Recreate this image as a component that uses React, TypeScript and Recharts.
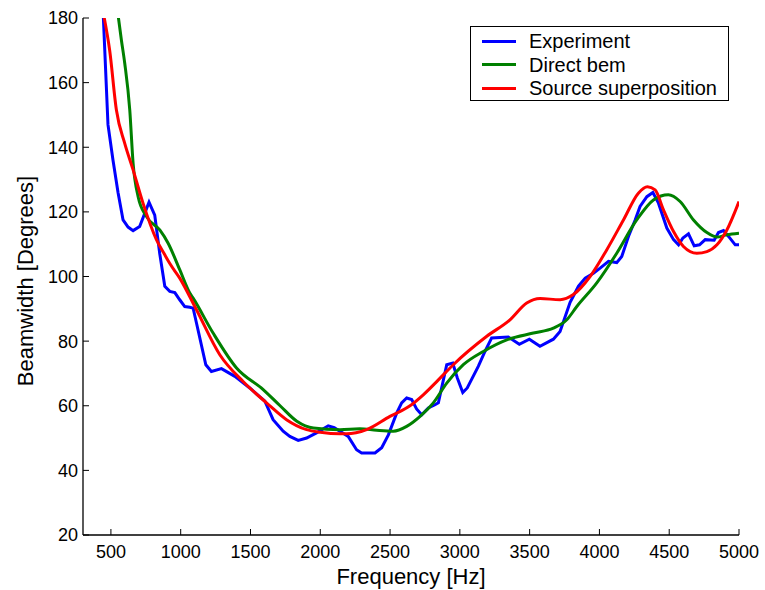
import { LineChart, Line, XAxis, YAxis, Legend } from 'recharts';

const xTicks = [500, 1000, 1500, 2000, 2500, 3000, 3500, 4000, 4500, 5000];
const yTicks = [20, 40, 60, 80, 100, 120, 140, 160, 180];
const seriesNames = ['Experiment', 'Direct bem', 'Source superposition'];

// measured beamwidth
const expFreq = [
  445, 479, 515, 551, 587, 623, 659, 706, 773, 814, 850, 886, 922, 958, 993, 1029, 1065, 1089, 1113,
  1180, 1220, 1292, 1388, 1495, 1603, 1662, 1734, 1782, 1842, 1902, 1973, 2057, 2100, 2141, 2200,
  2260, 2296, 2392, 2440, 2488, 2548, 2583, 2619, 2655, 2690, 2727, 2774, 2822, 2846, 2906, 2949,
  2982, 3021, 3053, 3132, 3180, 3228, 3347, 3426, 3498, 3574, 3670, 3718, 3790, 3850, 3898, 3957,
  4005, 4065, 4124, 4160, 4208, 4256, 4291, 4340, 4383, 4423, 4483, 4531, 4567, 4598, 4638, 4679,
  4717, 4758, 4822, 4853, 4889, 4925, 4973, 5000,
];
const expBeam = [
  181, 147, 136, 126, 117.5, 115.3, 114.2, 115.5, 123, 119, 107, 97, 95.4, 95, 92.8, 90.7, 90.5, 90.2, 85.6,
  72.7, 70.6, 71.5, 69.1, 65.5, 61.4, 55.7, 52.1, 50.5, 49.3, 50, 51.6, 53.8, 53.2, 52.1, 50.5,
  46.4, 45.4, 45.4, 47, 51, 57.8, 60.9, 62.4, 61.9, 59, 57.2, 59.3, 60.3, 60.9, 72.7, 73.2,
  68.6, 64.1, 65.5, 72.2, 76.8, 81, 81.3, 79, 80.6, 78.4, 80.6, 83, 92, 97, 99.5, 101,
  102.6, 104.7, 104.3, 106.2, 112.4, 117.5, 121.7, 124.7, 126, 122.7, 115, 111.4, 109.8, 111.9, 113.2, 109.5,
  109.8, 111.4, 111.2, 113.6, 114.2, 112.4, 109.8, 109.8,
];

// direct BEM model
const bemFreq = [
  551, 575, 599, 635, 659, 695, 754, 850, 910, 993, 1065, 1089, 1232, 1400, 1591, 1712, 1832, 1951,
  2141, 2284, 2404, 2523, 2619, 2715, 2810, 2906, 3025, 3168, 3336, 3527, 3670, 3766, 3838, 3981,
  4124, 4267, 4387, 4494, 4578, 4674, 4770, 4842, 4913, 5000,
];
const bemBeam = [
  181, 173.2, 166, 151.6, 135, 124.7, 118.6, 114.4, 110.3, 102.1, 94.9, 93.3, 82.5, 71.7, 65, 60, 55.2, 53.1,
  52.6, 52.9, 52.4, 52.1, 53.6, 56.7, 60.9, 67, 72.7, 76.8, 80.4, 82.5, 84, 86.6, 90.7, 98,
  107.2, 117.5, 123.7, 125.3, 123.2, 117.5, 113.6, 112.2, 112.9, 113.4,
];

// source superposition model
const supFreq = [
  448, 491, 539, 599, 659, 730, 826, 886, 922, 993, 1113, 1280, 1447, 1615, 1758, 1902, 2000, 2141,
  2188, 2332, 2499, 2643, 2738, 2846, 2953, 3193, 3359, 3479, 3575, 3718, 3813, 3933, 4053, 4172,
  4279, 4344, 4399, 4459, 4531, 4602, 4698, 4770, 4842, 4913, 5000,
];
const supBeam = [
  181, 170, 151.6, 141.2, 133, 122.7, 111.4, 106.7, 104, 99.5, 89.7, 75.8, 67.5, 60.9, 55.7, 52.6, 51.8, 51.3,
  51.3, 52.6, 56.7, 60, 63.4, 68, 72.7, 81.5, 86.6, 91.8, 93.2, 92.8, 94.4, 100, 108.3, 117.5,
  125.8, 127.8, 126.8, 120.6, 113.9, 109.3, 107.2, 107.7, 109.8, 114.4, 123.2,
];

const toPoints = (freq: number[], beam: number[]) => freq.map((f, i) => ({ f, v: beam[i] }));

const experiment = toPoints(expFreq, expBeam);
const directBem = toPoints(bemFreq, bemBeam);
const superposition = toPoints(supFreq, supBeam);

const FONT = '"Liberation Sans", Arial, Helvetica, sans-serif';

function LegendBox({ payload }: any) {
  // keep the series in plotting order, not the legend's default sort
  const items = seriesNames
    .map((name) => (payload || []).find((p: any) => p.value === name))
    .filter(Boolean);
  return (
    <div style={{
      position: 'relative',
      width: 259,
      height: 75,
      boxSizing: 'border-box',
      border: '1px solid #000',
      background: '#fff',
      fontFamily: FONT,
    }}>
      {items.map((item: any, i: number) => (
        <div key={item.value} style={{ position: 'absolute', left: 0, top: 2 + i * 23.5, height: 24, display: 'flex', alignItems: 'center' }}>
          <div style={{ marginLeft: 11, width: 34, height: 3, background: item.color }} />
          <span style={{ marginLeft: 13, fontSize: 20, color: '#000', lineHeight: '24px' }}>{item.value}</span>
        </div>
      ))}
    </div>
  );
}

const axisStroke = { stroke: '#000', strokeWidth: 1.3 };
const tickStroke = { stroke: '#000', strokeWidth: 1 };
const tickFont = { fill: '#000', fontSize: 18, fontFamily: FONT };

export default function App() {
  return (
    <div style={{ width: 765, height: 590, fontFamily: FONT, background: '#fff' }}>
      <style>{'body { margin: 0; }'}</style>
      <LineChart width={765} height={590} margin={{ top: 18, right: 26, bottom: 0, left: 0 }}>
        <XAxis
          dataKey="f"
          type="number"
          domain={[300, 5000]}
          ticks={xTicks}
          allowDataOverflow
          height={55}
          tickSize={-6}
          tickMargin={16}
          tick={tickFont}
          axisLine={axisStroke}
          tickLine={tickStroke}
          label={() => (
            <text x={411} y={584} textAnchor="middle" fontSize={22} fontFamily={FONT} fill="#000">
              Frequency [Hz]
            </text>
          )}
        />
        <XAxis
          xAxisId="top"
          orientation="top"
          type="number"
          domain={[300, 5000]}
          ticks={xTicks}
          allowDataOverflow
          height={0}
          tickSize={-6}
          tick={() => <g />}
          axisLine={axisStroke}
          tickLine={tickStroke}
        />
        <YAxis
          type="number"
          domain={[20, 180]}
          ticks={yTicks}
          allowDataOverflow
          width={83}
          tickSize={-6}
          tickMargin={11}
          tick={tickFont}
          axisLine={axisStroke}
          tickLine={tickStroke}
          label={() => (
            <text x={33} y={281} transform="rotate(-90, 33, 281)" textAnchor="middle" fontSize={22} fontFamily={FONT} fill="#000">
              Beamwidth [Degrees]
            </text>
          )}
        />
        <YAxis
          yAxisId="right"
          orientation="right"
          type="number"
          domain={[20, 180]}
          ticks={yTicks}
          allowDataOverflow
          width={0}
          tickSize={-6}
          tick={() => <g />}
          axisLine={axisStroke}
          tickLine={tickStroke}
        />
        <Line data={experiment} dataKey="v" name="Experiment" type="linear" stroke="#0000ff" strokeWidth={3} dot={false} isAnimationActive={false} />
        <Line data={directBem} dataKey="v" name="Direct bem" type="monotone" stroke="#008000" strokeWidth={3} dot={false} isAnimationActive={false} />
        <Line data={superposition} dataKey="v" name="Source superposition" type="monotone" stroke="#ff0000" strokeWidth={3} dot={false} isAnimationActive={false} />
        <Legend
          layout="vertical"
          align="center"
          verticalAlign="middle"
          content={LegendBox}
          wrapperStyle={{ left: 470, top: 26, width: 259, height: 75 }}
        />
      </LineChart>
    </div>
  );
}
